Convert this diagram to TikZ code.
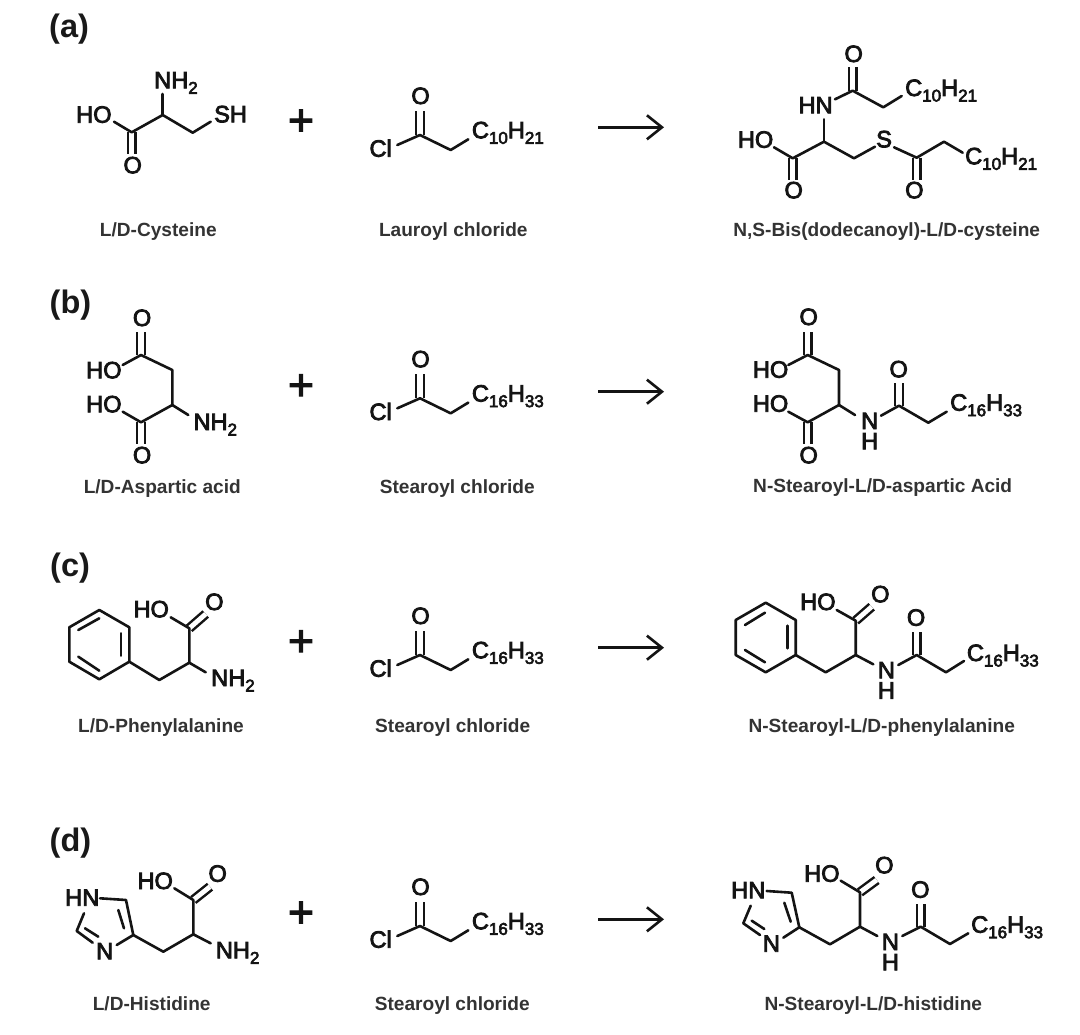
\documentclass[tikz,border=0pt]{standalone}
\usepackage{fontspec}
\setmainfont{Liberation Sans}
\newfontfamily\atomfont[FakeBold=3.5]{Liberation Sans}
\newfontfamily\plusfont[FakeBold=3]{Liberation Sans}
\newfontfamily\namefont{Liberation Sans}[BoldFont={Liberation Sans Bold}]
\usetikzlibrary{arrows.meta}
\newcommand{\sbs}[1]{\raisebox{-5.5pt}{\fontsize{17}{17}\selectfont #1}}
\newcommand{\nh}{\rlap{\raisebox{-20.3pt}{H}}N}
\newcommand{\pts}[1]{\foreach \n/\xx/\yy in {#1}{\coordinate (\n) at (\xx,\yy);}}
\tikzset{
  bond/.style={line width=2.6pt,line cap=round,line join=round,black!92},
  dbl/.style={line width=2.5pt,double=white,double distance=5.2pt,black!92},
  atom/.style={anchor=base west,inner sep=0pt,font=\atomfont\fontsize{23.6}{23.6}\selectfont,text=black!92},
  cmpd/.style={anchor=base,inner sep=0pt,font=\namefont\bfseries\fontsize{19.1}{19.1}\selectfont,text=black!80},
  panel/.style={anchor=base west,inner sep=0pt,font=\namefont\bfseries\fontsize{32.5}{32.5}\selectfont,text=black!90},
  plus/.style={inner sep=0pt,font=\plusfont\fontsize{44}{44}\selectfont,text=black!92},
  rxn/.style={line width=2.6pt,black!92,-{Straight Barb[length=15pt,width=24pt,line width=2.6pt]}}
}
% acyl chloride fragment: prefix, vertical shift, two subscripts
\newcommand{\acyl}[4]{%
  \coordinate (#1c) at (420,135+#2);
  \coordinate (#1e) at (420,110.7+#2);
  \coordinate (#1k) at (397.3,145+#2);
  \coordinate (#1m) at (450.7,150+#2);
  \coordinate (#1t) at (468.3,139.3+#2);
  \node[atom] (#1o) at (411.2,104+#2) {O};
  \node[atom] (#1l) at (369.3,156.7+#2) {Cl};
  \node[atom] (#1r) at (471.7,138.3+#2) {C\sbs{#3}H\sbs{#4}};
  \draw[dbl] (#1c) -- (#1e);
  \draw[bond] (#1k) -- (#1c) -- (#1m) -- (#1t);
}
\begin{document}
\begin{tikzpicture}[x=1pt,y=-1pt]
\useasboundingbox (0,0) rectangle (1080,1035);
\fill[white] (0,0) rectangle (1080,1035);

% ---------- panel labels
\node[panel] (pa) at (49,37.5) {(a)};
\node[panel] (pb) at (49.5,313.5) {(b)};
\node[panel] (pc) at (50,576) {(c)};
\node[panel] (pd) at (49.5,851.5) {(d)};

% ---------- plus signs
\node[plus] (pl1) at (301,122.5) {+};
\node[plus] (pl2) at (301,387.2) {+};
\node[plus] (pl3) at (301,643.2) {+};
\node[plus] (pl4) at (301,914.5) {+};

% ---------- reaction arrows
\pts{ar1s/598.3/127.3,ar1e/664/127.3,ar2s/598.3/391.7,ar2e/664/391.7,ar3s/598.3/647.7,ar3e/664/647.7,ar4s/598.3/919.3,ar4e/664/919.3}
\draw[rxn] (ar1s) -- (ar1e);
\draw[rxn] (ar2s) -- (ar2e);
\draw[rxn] (ar3s) -- (ar3e);
\draw[rxn] (ar4s) -- (ar4e);

% ---------- acyl chlorides
\acyl{ma}{0}{10}{21}
\acyl{mb}{263.3}{16}{33}
\acyl{mc}{520}{16}{33}
\acyl{md}{791}{16}{33}

% ---------- (a) cysteine
\node[atom] (a1n) at (154,88.3) {NH\sbs{2}};
\node[atom] (a1h) at (76,122.7) {HO};
\node[atom] (a1s) at (214,122.3) {SH};
\node[atom] (a1o) at (123.3,173.3) {O};
\pts{a1a/162.7/115,a1b/162.7/94,a1c/131.7/132.3,a1d/114/121.7,a1e/192.7/132.7,a1f/210.7/121.7,a1g/131.7/154}
\draw[dbl] (a1c) -- (a1g);
\draw[bond] (a1d) -- (a1c) -- (a1a) -- (a1e) -- (a1f);
\draw[bond] (a1a) -- (a1b);

% ---------- (a) product
\node[atom] (a3o1) at (844.3,62) {O};
\node[atom] (a3n) at (798.3,113.3) {HN};
\node[atom] (a3r1) at (905,96) {C\sbs{10}H\sbs{21}};
\node[atom] (a3h) at (737.7,147.7) {HO};
\node[atom] (a3o2) at (784.3,198.3) {O};
\node[atom] (a3s) at (876,147.3) {S};
\node[atom] (a3o3) at (905,198.3) {O};
\node[atom] (a3r2) at (965,164.3) {C\sbs{10}H\sbs{21}};
\pts{a3a/852.7/90.7,a3b/852.7/67.3,a3c/835/99.3,a3d/883.3/107.3,a3e/901.7/96,a3f/824/119.3,a3g/824/141.7,a3i/774/147.3,a3j/792.7/158.3,a3k/792.7/180,a3l/854/158.3,a3m/875/146.7,a3p/894/147.3,a3q/916.7/157.7,a3t/916.7/180,a3u/944/141.7,a3v/962.7/152.7}
\draw[dbl] (a3a) -- (a3b);
\draw[dbl] (a3j) -- (a3k);
\draw[dbl] (a3q) -- (a3t);
\draw[bond] (a3c) -- (a3a) -- (a3d) -- (a3e);
\draw[bond] (a3f) -- (a3g);
\draw[bond] (a3i) -- (a3j) -- (a3g) -- (a3l) -- (a3m);
\draw[bond] (a3p) -- (a3q) -- (a3u) -- (a3v);

% ---------- (b) aspartic acid
\node[atom] (b1o1) at (132.7,326) {O};
\node[atom] (b1h1) at (86,378.3) {HO};
\node[atom] (b1h2) at (86,412.3) {HO};
\node[atom] (b1n) at (193.3,430) {NH\sbs{2}};
\node[atom] (b1o2) at (132.7,463.3) {O};
\pts{b1a/141/355,b1b/141/331.7,b1c/122.7/365,b1d/172.3/370,b1e/172.3/405,b1f/122.7/411.7,b1g/141/422.3,b1i/188.3/415,b1j/141/444}
\draw[dbl] (b1a) -- (b1b);
\draw[dbl] (b1g) -- (b1j);
\draw[bond] (b1c) -- (b1a) -- (b1d) -- (b1e) -- (b1g) -- (b1f);
\draw[bond] (b1e) -- (b1i);

% ---------- (b) product
\node[atom] (b3o1) at (799.3,325) {O};
\node[atom] (b3h1) at (752.7,377.7) {HO};
\node[atom] (b3h2) at (752.7,411.7) {HO};
\node[atom] (b3o2) at (799.3,463.3) {O};
\node[atom] (b3n) at (861,429) {\nh};
\node[atom] (b3o3) at (889.3,377.3) {O};
\node[atom] (b3r) at (950,410.7) {C\sbs{16}H\sbs{33}};
\pts{b3a/807.7/355,b3b/807.7/331.7,b3c/788.3/365,b3d/839/370,b3e/839/405,b3f/788.3/411.7,b3g/807.7/422.3,b3i/807.7/444,b3j/855/415,b3k/881/415.7,b3l/899/405.7,b3m/899/383.3,b3p/928.3/422.7,b3q/946.7/411.7}
\draw[dbl] (b3a) -- (b3b);
\draw[dbl] (b3g) -- (b3i);
\draw[dbl] (b3l) -- (b3m);
\draw[bond] (b3c) -- (b3a) -- (b3d) -- (b3e) -- (b3g) -- (b3f);
\draw[bond] (b3e) -- (b3j);
\draw[bond] (b3k) -- (b3l) -- (b3p) -- (b3q);

% ---------- (c) phenylalanine
\node[atom] (c1h) at (133.3,617.3) {HO};
\node[atom] (c1o) at (205,610) {O};
\node[atom] (c1n) at (211,686) {NH\sbs{2}};
\pts{c1a/99.3/610,c1b/129.3/627.3,c1c/129.3/661.7,c1d/99.3/679.3,c1e/69.3/661.7,c1f/69.3/627.3,c1g/78.3/630,c1i/99.3/618.3,c1j/121/633.3,c1k/121/655.7,c1l/78.3/656.7,c1m/99.3/670.7,c1p/159.3/680,c1q/189.3/662.7,c1r/189.3/628.3,c1s/170.7/617.3,c1t/205.7/614,c1u/205.7/672.3}
\draw[dbl,double distance=4.8pt] (c1r) -- (c1t);
\draw[bond] (c1a) -- (c1b) -- (c1c) -- (c1d) -- (c1e) -- (c1f) -- cycle;
\draw[bond] (c1g) -- (c1i);
\draw[bond] (c1j) -- (c1k);
\draw[bond] (c1l) -- (c1m);
\draw[bond] (c1c) -- (c1p) -- (c1q) -- (c1r) -- (c1s);
\draw[bond] (c1q) -- (c1u);

% ---------- (c) product
\node[atom] (c3h) at (800,610) {HO};
\node[atom] (c3o1) at (871,602.3) {O};
\node[atom] (c3n) at (877.7,678.3) {\nh};
\node[atom] (c3o2) at (906.7,625.7) {O};
\node[atom] (c3r) at (966.7,661) {C\sbs{16}H\sbs{33}};
\pts{c3a/765.7/602.7,c3b/795.7/620,c3c/795.7/655,c3d/765.7/672.3,c3e/735.7/655,c3f/735.7/620,c3g/745/625,c3i/765/612.7,c3j/787.3/625.7,c3k/787.3/648.3,c3l/745/650,c3m/765/662.3,c3p/825.7/672.3,c3q/855.7/655,c3s/855.7/620.7,c3t/836.7/610,c3u/871.7/606.7,c3v/873.3/664.3,c3w/898.3/665,c3x/916.7/655,c3y/916.7/632.3,c3z/946/672.3,c3zz/964/661}
\draw[dbl,double distance=4.8pt] (c3s) -- (c3u);
\draw[dbl] (c3x) -- (c3y);
\draw[bond] (c3a) -- (c3b) -- (c3c) -- (c3d) -- (c3e) -- (c3f) -- cycle;
\draw[bond] (c3g) -- (c3i);
\draw[bond] (c3j) -- (c3k);
\draw[bond] (c3l) -- (c3m);
\draw[bond] (c3c) -- (c3p) -- (c3q) -- (c3s) -- (c3t);
\draw[bond] (c3q) -- (c3v);
\draw[bond] (c3w) -- (c3x) -- (c3z) -- (c3zz);

% ---------- (d) histidine
\node[atom] (d1n1) at (65,905.7) {HN};
\node[atom] (d1n2) at (96,959.3) {N};
\node[atom] (d1h) at (137.3,889) {HO};
\node[atom] (d1o) at (208.3,881.7) {O};
\node[atom] (d1n3) at (215.7,958.3) {NH\sbs{2}};
\pts{d1a/100/898.3,d1b/126/900,d1c/133.3/935,d1d/116.7/945,d1e/76.7/931,d1f/84/913.3,d1g/92.7/942.7,d1i/85/928.3,d1j/98.3/936.7,d1k/118.3/910,d1l/124/928.3,d1m/163.3/951.7,d1p/193.3/934.3,d1q/193.3/900,d1r/174.3/888.3,d1s/210/886.7,d1t/210.7/943.3}
\draw[dbl,double distance=4.8pt] (d1q) -- (d1s);
\draw[bond] (d1a) -- (d1b) -- (d1c) -- (d1d);
\draw[bond] (d1f) -- (d1e) -- (d1g);
\draw[bond] (d1i) -- (d1j);
\draw[bond] (d1k) -- (d1l);
\draw[bond] (d1c) -- (d1m) -- (d1p) -- (d1q) -- (d1r);
\draw[bond] (d1p) -- (d1t);

% ---------- (d) product
\node[atom] (d3n1) at (731,898.3) {HN};
\node[atom] (d3n2) at (762.7,951.7) {N};
\node[atom] (d3h) at (804,881.7) {HO};
\node[atom] (d3o1) at (875,873.3) {O};
\node[atom] (d3n3) at (881.7,950) {\nh};
\node[atom] (d3o2) at (911,897.7) {O};
\node[atom] (d3r) at (971,932.7) {C\sbs{16}H\sbs{33}};
\pts{d3a/766.7/891,d3b/791.7/892.7,d3c/799.3/927.3,d3d/783.3/937.7,d3e/743.3/923.3,d3f/750.7/905.7,d3g/760/935,d3i/751.7/920.7,d3j/764.3/929,d3k/784.3/902.7,d3l/790.7/921.7,d3m/830/944.3,d3p/860/926.7,d3q/860/892.3,d3s/840.7/880.7,d3t/876.7/880,d3u/877.3/936,d3v/902.3/936,d3w/920.7/926.7,d3x/920.7/904,d3y/950/944,d3z/968.3/933.3}
\draw[dbl,double distance=4.8pt] (d3q) -- (d3t);
\draw[dbl] (d3w) -- (d3x);
\draw[bond] (d3a) -- (d3b) -- (d3c) -- (d3d);
\draw[bond] (d3f) -- (d3e) -- (d3g);
\draw[bond] (d3i) -- (d3j);
\draw[bond] (d3k) -- (d3l);
\draw[bond] (d3c) -- (d3m) -- (d3p) -- (d3q) -- (d3s);
\draw[bond] (d3p) -- (d3u);
\draw[bond] (d3v) -- (d3w) -- (d3y) -- (d3z);

% ---------- compound names
\node[cmpd] (ta1) at (158.3,237) {L/D-Cysteine};
\node[cmpd] (ta2) at (453.3,237) {Lauroyl chloride};
\node[cmpd] (ta3) at (886.7,236.7) {N,S-Bis(dodecanoyl)-L/D-cysteine};
\node[cmpd] (tb1) at (162.3,493) {L/D-Aspartic acid};
\node[cmpd] (tb2) at (457.3,493) {Stearoyl chloride};
\node[cmpd] (tb3) at (882.7,492.7) {N-Stearoyl-L/D-aspartic Acid};
\node[cmpd] (tc1) at (161,732.7) {L/D-Phenylalanine};
\node[cmpd] (tc2) at (452.7,732.7) {Stearoyl chloride};
\node[cmpd] (tc3) at (881.7,732.7) {N-Stearoyl-L/D-phenylalanine};
\node[cmpd] (td1) at (151.7,1010) {L/D-Histidine};
\node[cmpd] (td2) at (452.3,1010) {Stearoyl chloride};
\node[cmpd] (td3) at (873.3,1010) {N-Stearoyl-L/D-histidine};
\end{tikzpicture}
\end{document}
